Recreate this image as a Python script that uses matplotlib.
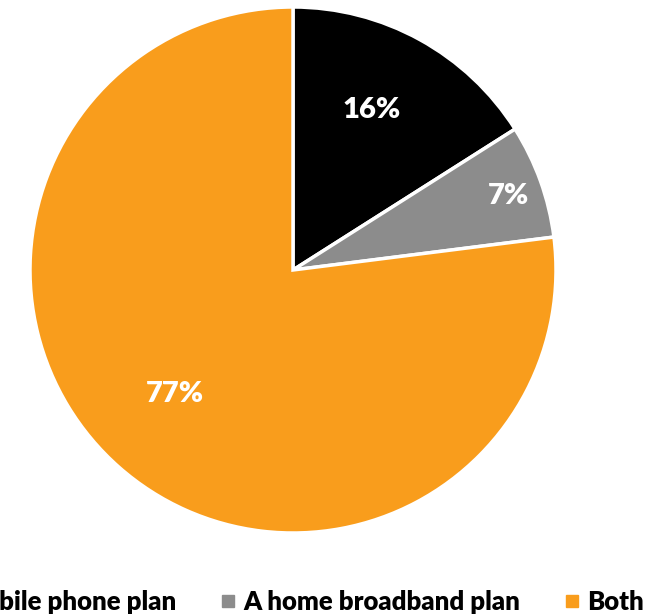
import matplotlib.pyplot as plt
from matplotlib.lines import Line2D

plt.rcParams['font.family'] = ['Lato', 'DejaVu Sans']

# data
labels = ['A mobile phone plan', 'A home broadband plan', 'Both']
shares = [16, 7, 77]
colors = ['#000000', '#8c8c8c', '#f99d1c']

fig = plt.figure(figsize=(6.56, 6.14), dpi=100)
ax = fig.add_axes([30 / 656, 81 / 614, 526 / 656, 526 / 614])

wedges, texts = ax.pie(shares, colors=colors, startangle=90, counterclock=False,
                       radius=1, wedgeprops=dict(edgecolor='white', linewidth=2.5))
ax.set_xlim(-1, 1)
ax.set_ylim(-1, 1)
ax.set_aspect('equal')

# percent labels
label_pos = [(0.30, 0.61), (0.82, 0.28), (-0.45, -0.47)]
for (x, y), v in zip(label_pos, shares):
    ax.text(x, y, '%d%%' % v, color='white', fontsize=21, fontweight='heavy',
            ha='center', va='center')

handles = [Line2D([], [], marker='s', linestyle='none', markersize=9,
                  markerfacecolor=c, markeredgecolor=c) for c in colors]
fig.legend(handles, labels, loc='center', ncol=3, frameon=False,
           bbox_to_anchor=(0.425, 0.02), prop=dict(size=18.5, weight='heavy'),
           handletextpad=0.25, columnspacing=1.65, handlelength=0.7)

fig.savefig('out.png', dpi=100)
